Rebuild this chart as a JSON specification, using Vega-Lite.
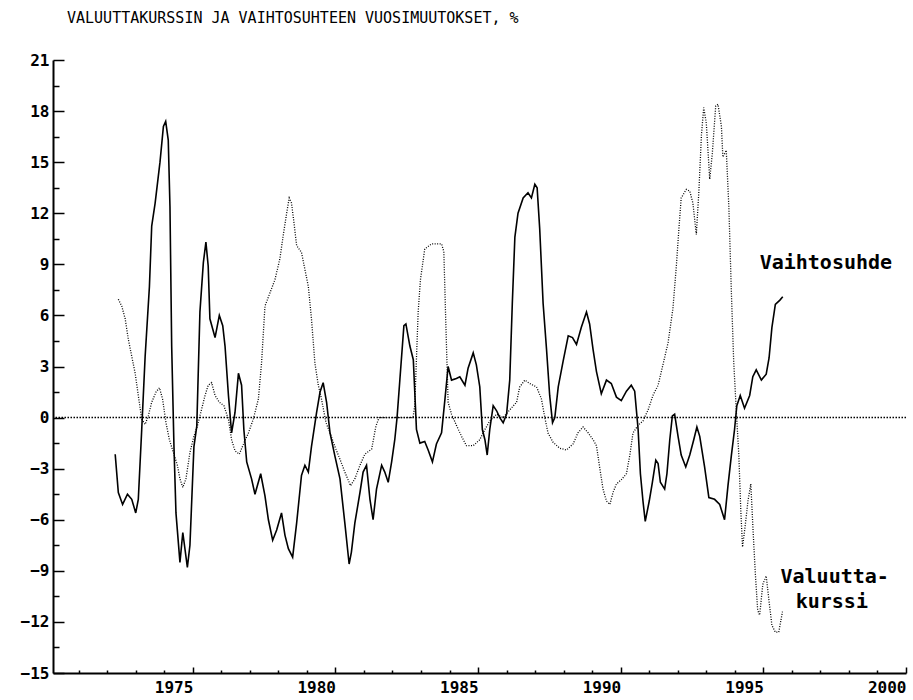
{
  "$schema": "https://vega.github.io/schema/vega-lite/v6.json",
  "width": 853,
  "height": 613,
  "autosize": "none",
  "padding": {"left": 53, "top": 60, "right": 7, "bottom": 27},
  "background": "white",
  "title": {
    "text": "VALUUTTAKURSSIN JA VAIHTOSUHTEEN VUOSIMUUTOKSET, %",
    "anchor": "start",
    "frame": "group",
    "dx": 14,
    "offset": 26,
    "font": "DejaVu Sans Mono",
    "fontSize": 15,
    "fontWeight": "normal",
    "color": "black"
  },
  "config": {
    "view": {"stroke": null},
    "axis": {"grid": false}
  },
  "datasets": {
    "series": [
      {"series": "Vaihtosuhde", "year": 1972.28, "value": -2.15},
      {"series": "Vaihtosuhde", "year": 1972.39, "value": -4.4},
      {"series": "Vaihtosuhde", "year": 1972.54, "value": -5.1},
      {"series": "Vaihtosuhde", "year": 1972.71, "value": -4.5},
      {"series": "Vaihtosuhde", "year": 1972.86, "value": -4.8},
      {"series": "Vaihtosuhde", "year": 1973.0, "value": -5.6},
      {"series": "Vaihtosuhde", "year": 1973.09, "value": -4.8},
      {"series": "Vaihtosuhde", "year": 1973.21, "value": -0.7},
      {"series": "Vaihtosuhde", "year": 1973.33, "value": 3.6},
      {"series": "Vaihtosuhde", "year": 1973.48, "value": 7.7},
      {"series": "Vaihtosuhde", "year": 1973.56, "value": 11.25},
      {"series": "Vaihtosuhde", "year": 1973.68, "value": 12.6},
      {"series": "Vaihtosuhde", "year": 1973.85, "value": 15.0},
      {"series": "Vaihtosuhde", "year": 1973.97, "value": 17.1},
      {"series": "Vaihtosuhde", "year": 1974.05, "value": 17.4},
      {"series": "Vaihtosuhde", "year": 1974.14, "value": 16.3},
      {"series": "Vaihtosuhde", "year": 1974.2, "value": 12.4},
      {"series": "Vaihtosuhde", "year": 1974.26, "value": 4.2},
      {"series": "Vaihtosuhde", "year": 1974.34, "value": -1.7},
      {"series": "Vaihtosuhde", "year": 1974.41, "value": -5.6},
      {"series": "Vaihtosuhde", "year": 1974.55, "value": -8.5},
      {"series": "Vaihtosuhde", "year": 1974.65, "value": -6.75},
      {"series": "Vaihtosuhde", "year": 1974.81, "value": -8.8},
      {"series": "Vaihtosuhde", "year": 1974.9, "value": -7.5},
      {"series": "Vaihtosuhde", "year": 1975.04, "value": -1.7},
      {"series": "Vaihtosuhde", "year": 1975.14, "value": -0.5},
      {"series": "Vaihtosuhde", "year": 1975.25, "value": 6.2},
      {"series": "Vaihtosuhde", "year": 1975.37, "value": 9.1},
      {"series": "Vaihtosuhde", "year": 1975.46, "value": 10.3},
      {"series": "Vaihtosuhde", "year": 1975.54, "value": 8.9},
      {"series": "Vaihtosuhde", "year": 1975.6, "value": 5.8},
      {"series": "Vaihtosuhde", "year": 1975.78, "value": 4.7},
      {"series": "Vaihtosuhde", "year": 1975.93, "value": 6.0},
      {"series": "Vaihtosuhde", "year": 1976.05, "value": 5.4},
      {"series": "Vaihtosuhde", "year": 1976.13, "value": 4.2},
      {"series": "Vaihtosuhde", "year": 1976.25, "value": 1.3},
      {"series": "Vaihtosuhde", "year": 1976.36, "value": -0.9},
      {"series": "Vaihtosuhde", "year": 1976.48, "value": 0.3},
      {"series": "Vaihtosuhde", "year": 1976.6, "value": 2.6},
      {"series": "Vaihtosuhde", "year": 1976.71, "value": 1.9},
      {"series": "Vaihtosuhde", "year": 1976.79, "value": -0.7},
      {"series": "Vaihtosuhde", "year": 1976.89, "value": -2.6},
      {"series": "Vaihtosuhde", "year": 1977.06, "value": -3.6},
      {"series": "Vaihtosuhde", "year": 1977.18, "value": -4.5},
      {"series": "Vaihtosuhde", "year": 1977.38, "value": -3.3},
      {"series": "Vaihtosuhde", "year": 1977.53, "value": -4.6},
      {"series": "Vaihtosuhde", "year": 1977.65, "value": -6.0},
      {"series": "Vaihtosuhde", "year": 1977.8, "value": -7.2},
      {"series": "Vaihtosuhde", "year": 1977.94, "value": -6.6},
      {"series": "Vaihtosuhde", "year": 1978.11, "value": -5.6},
      {"series": "Vaihtosuhde", "year": 1978.23, "value": -6.9},
      {"series": "Vaihtosuhde", "year": 1978.35, "value": -7.7},
      {"series": "Vaihtosuhde", "year": 1978.5, "value": -8.2},
      {"series": "Vaihtosuhde", "year": 1978.64, "value": -6.2},
      {"series": "Vaihtosuhde", "year": 1978.81, "value": -3.4},
      {"series": "Vaihtosuhde", "year": 1978.93, "value": -2.8},
      {"series": "Vaihtosuhde", "year": 1979.05, "value": -3.2},
      {"series": "Vaihtosuhde", "year": 1979.16, "value": -1.7},
      {"series": "Vaihtosuhde", "year": 1979.34, "value": 0.3},
      {"series": "Vaihtosuhde", "year": 1979.46, "value": 1.5},
      {"series": "Vaihtosuhde", "year": 1979.57, "value": 2.05},
      {"series": "Vaihtosuhde", "year": 1979.69, "value": 0.9},
      {"series": "Vaihtosuhde", "year": 1979.81, "value": -0.9},
      {"series": "Vaihtosuhde", "year": 1979.98, "value": -2.25},
      {"series": "Vaihtosuhde", "year": 1980.16, "value": -3.6},
      {"series": "Vaihtosuhde", "year": 1980.33, "value": -6.2},
      {"series": "Vaihtosuhde", "year": 1980.48, "value": -8.6},
      {"series": "Vaihtosuhde", "year": 1980.56, "value": -7.9},
      {"series": "Vaihtosuhde", "year": 1980.68, "value": -6.2},
      {"series": "Vaihtosuhde", "year": 1980.86, "value": -4.4},
      {"series": "Vaihtosuhde", "year": 1980.97, "value": -3.2},
      {"series": "Vaihtosuhde", "year": 1981.09, "value": -2.8},
      {"series": "Vaihtosuhde", "year": 1981.21, "value": -4.8},
      {"series": "Vaihtosuhde", "year": 1981.32, "value": -6.0},
      {"series": "Vaihtosuhde", "year": 1981.44, "value": -4.2},
      {"series": "Vaihtosuhde", "year": 1981.62, "value": -2.8},
      {"series": "Vaihtosuhde", "year": 1981.73, "value": -3.2},
      {"series": "Vaihtosuhde", "year": 1981.85, "value": -3.8},
      {"series": "Vaihtosuhde", "year": 1981.97, "value": -2.6},
      {"series": "Vaihtosuhde", "year": 1982.08, "value": -1.3},
      {"series": "Vaihtosuhde", "year": 1982.16, "value": 0},
      {"series": "Vaihtosuhde", "year": 1982.26, "value": 2.25},
      {"series": "Vaihtosuhde", "year": 1982.4, "value": 5.4},
      {"series": "Vaihtosuhde", "year": 1982.47, "value": 5.5},
      {"series": "Vaihtosuhde", "year": 1982.61, "value": 4.2},
      {"series": "Vaihtosuhde", "year": 1982.73, "value": 3.4},
      {"series": "Vaihtosuhde", "year": 1982.84, "value": -0.7},
      {"series": "Vaihtosuhde", "year": 1982.96, "value": -1.5},
      {"series": "Vaihtosuhde", "year": 1983.13, "value": -1.4},
      {"series": "Vaihtosuhde", "year": 1983.25, "value": -1.9},
      {"series": "Vaihtosuhde", "year": 1983.4, "value": -2.6},
      {"series": "Vaihtosuhde", "year": 1983.54, "value": -1.55},
      {"series": "Vaihtosuhde", "year": 1983.72, "value": -0.9},
      {"series": "Vaihtosuhde", "year": 1983.84, "value": 1.1},
      {"series": "Vaihtosuhde", "year": 1983.95, "value": 3.0},
      {"series": "Vaihtosuhde", "year": 1984.07, "value": 2.2},
      {"series": "Vaihtosuhde", "year": 1984.24, "value": 2.3},
      {"series": "Vaihtosuhde", "year": 1984.36, "value": 2.4},
      {"series": "Vaihtosuhde", "year": 1984.54, "value": 1.9},
      {"series": "Vaihtosuhde", "year": 1984.65, "value": 2.9},
      {"series": "Vaihtosuhde", "year": 1984.83, "value": 3.8},
      {"series": "Vaihtosuhde", "year": 1984.94, "value": 3.1},
      {"series": "Vaihtosuhde", "year": 1985.06, "value": 1.8},
      {"series": "Vaihtosuhde", "year": 1985.15, "value": -0.7},
      {"series": "Vaihtosuhde", "year": 1985.24, "value": -1.3},
      {"series": "Vaihtosuhde", "year": 1985.32, "value": -2.2},
      {"series": "Vaihtosuhde", "year": 1985.41, "value": -0.7},
      {"series": "Vaihtosuhde", "year": 1985.53, "value": 0.7},
      {"series": "Vaihtosuhde", "year": 1985.65, "value": 0.4},
      {"series": "Vaihtosuhde", "year": 1985.76, "value": 0},
      {"series": "Vaihtosuhde", "year": 1985.88, "value": -0.3},
      {"series": "Vaihtosuhde", "year": 1986.0, "value": 0.2},
      {"series": "Vaihtosuhde", "year": 1986.11, "value": 2.2},
      {"series": "Vaihtosuhde", "year": 1986.2, "value": 6.7},
      {"series": "Vaihtosuhde", "year": 1986.29, "value": 10.6},
      {"series": "Vaihtosuhde", "year": 1986.4, "value": 12.0},
      {"series": "Vaihtosuhde", "year": 1986.58, "value": 12.9},
      {"series": "Vaihtosuhde", "year": 1986.75, "value": 13.2},
      {"series": "Vaihtosuhde", "year": 1986.87, "value": 12.9},
      {"series": "Vaihtosuhde", "year": 1986.99, "value": 13.7},
      {"series": "Vaihtosuhde", "year": 1987.07, "value": 13.5},
      {"series": "Vaihtosuhde", "year": 1987.16, "value": 11.1},
      {"series": "Vaihtosuhde", "year": 1987.28, "value": 6.7},
      {"series": "Vaihtosuhde", "year": 1987.4, "value": 4.0},
      {"series": "Vaihtosuhde", "year": 1987.51, "value": 1.3},
      {"series": "Vaihtosuhde", "year": 1987.61, "value": -0.3},
      {"series": "Vaihtosuhde", "year": 1987.69, "value": 0},
      {"series": "Vaihtosuhde", "year": 1987.81, "value": 1.8},
      {"series": "Vaihtosuhde", "year": 1987.98, "value": 3.3},
      {"series": "Vaihtosuhde", "year": 1988.16, "value": 4.8},
      {"series": "Vaihtosuhde", "year": 1988.31, "value": 4.7},
      {"series": "Vaihtosuhde", "year": 1988.45, "value": 4.3},
      {"series": "Vaihtosuhde", "year": 1988.62, "value": 5.3},
      {"series": "Vaihtosuhde", "year": 1988.8, "value": 6.2},
      {"series": "Vaihtosuhde", "year": 1988.91, "value": 5.5},
      {"series": "Vaihtosuhde", "year": 1989.03, "value": 4.0},
      {"series": "Vaihtosuhde", "year": 1989.15, "value": 2.7},
      {"series": "Vaihtosuhde", "year": 1989.32, "value": 1.4},
      {"series": "Vaihtosuhde", "year": 1989.5, "value": 2.2},
      {"series": "Vaihtosuhde", "year": 1989.67, "value": 2.0},
      {"series": "Vaihtosuhde", "year": 1989.85, "value": 1.2},
      {"series": "Vaihtosuhde", "year": 1990.02, "value": 1.0},
      {"series": "Vaihtosuhde", "year": 1990.2, "value": 1.55},
      {"series": "Vaihtosuhde", "year": 1990.37, "value": 1.9},
      {"series": "Vaihtosuhde", "year": 1990.49, "value": 1.55},
      {"series": "Vaihtosuhde", "year": 1990.61, "value": -0.7},
      {"series": "Vaihtosuhde", "year": 1990.69, "value": -3.3},
      {"series": "Vaihtosuhde", "year": 1990.78, "value": -4.9},
      {"series": "Vaihtosuhde", "year": 1990.86, "value": -6.1},
      {"series": "Vaihtosuhde", "year": 1991.0, "value": -4.9},
      {"series": "Vaihtosuhde", "year": 1991.11, "value": -3.8},
      {"series": "Vaihtosuhde", "year": 1991.23, "value": -2.5},
      {"series": "Vaihtosuhde", "year": 1991.31, "value": -2.7},
      {"series": "Vaihtosuhde", "year": 1991.39, "value": -3.8},
      {"series": "Vaihtosuhde", "year": 1991.54, "value": -4.2},
      {"series": "Vaihtosuhde", "year": 1991.62, "value": -3.3},
      {"series": "Vaihtosuhde", "year": 1991.72, "value": -1.3},
      {"series": "Vaihtosuhde", "year": 1991.81, "value": 0.1},
      {"series": "Vaihtosuhde", "year": 1991.89, "value": 0.2},
      {"series": "Vaihtosuhde", "year": 1992.01, "value": -1.1},
      {"series": "Vaihtosuhde", "year": 1992.12, "value": -2.2},
      {"series": "Vaihtosuhde", "year": 1992.28, "value": -2.9},
      {"series": "Vaihtosuhde", "year": 1992.42, "value": -2.2},
      {"series": "Vaihtosuhde", "year": 1992.56, "value": -1.3},
      {"series": "Vaihtosuhde", "year": 1992.67, "value": -0.55},
      {"series": "Vaihtosuhde", "year": 1992.77, "value": -1.1},
      {"series": "Vaihtosuhde", "year": 1992.94, "value": -2.9},
      {"series": "Vaihtosuhde", "year": 1993.09, "value": -4.7},
      {"series": "Vaihtosuhde", "year": 1993.29, "value": -4.8},
      {"series": "Vaihtosuhde", "year": 1993.47, "value": -5.1},
      {"series": "Vaihtosuhde", "year": 1993.64, "value": -6.0},
      {"series": "Vaihtosuhde", "year": 1993.76, "value": -4.0},
      {"series": "Vaihtosuhde", "year": 1993.88, "value": -2.2},
      {"series": "Vaihtosuhde", "year": 1993.99, "value": -0.7},
      {"series": "Vaihtosuhde", "year": 1994.07, "value": 0.7},
      {"series": "Vaihtosuhde", "year": 1994.19, "value": 1.3},
      {"series": "Vaihtosuhde", "year": 1994.34, "value": 0.55},
      {"series": "Vaihtosuhde", "year": 1994.52, "value": 1.3},
      {"series": "Vaihtosuhde", "year": 1994.63, "value": 2.4},
      {"series": "Vaihtosuhde", "year": 1994.75, "value": 2.8},
      {"series": "Vaihtosuhde", "year": 1994.93, "value": 2.2},
      {"series": "Vaihtosuhde", "year": 1995.1, "value": 2.55},
      {"series": "Vaihtosuhde", "year": 1995.2, "value": 3.5},
      {"series": "Vaihtosuhde", "year": 1995.3, "value": 5.3},
      {"series": "Vaihtosuhde", "year": 1995.42, "value": 6.65},
      {"series": "Vaihtosuhde", "year": 1995.58, "value": 6.9},
      {"series": "Vaihtosuhde", "year": 1995.68, "value": 7.1},

      {"series": "Valuuttakurssi", "year": 1972.39, "value": 6.95},
      {"series": "Valuuttakurssi", "year": 1972.51, "value": 6.55},
      {"series": "Valuuttakurssi", "year": 1972.63, "value": 5.8},
      {"series": "Valuuttakurssi", "year": 1972.74, "value": 4.6},
      {"series": "Valuuttakurssi", "year": 1972.86, "value": 3.6},
      {"series": "Valuuttakurssi", "year": 1972.98, "value": 2.6},
      {"series": "Valuuttakurssi", "year": 1973.09, "value": 1.3},
      {"series": "Valuuttakurssi", "year": 1973.21, "value": -0.1},
      {"series": "Valuuttakurssi", "year": 1973.33, "value": -0.4},
      {"series": "Valuuttakurssi", "year": 1973.44, "value": 0.1},
      {"series": "Valuuttakurssi", "year": 1973.56, "value": 0.9},
      {"series": "Valuuttakurssi", "year": 1973.71, "value": 1.5},
      {"series": "Valuuttakurssi", "year": 1973.83, "value": 1.75},
      {"series": "Valuuttakurssi", "year": 1973.94, "value": 1.1},
      {"series": "Valuuttakurssi", "year": 1974.06, "value": -0.3},
      {"series": "Valuuttakurssi", "year": 1974.18, "value": -1.3},
      {"series": "Valuuttakurssi", "year": 1974.32, "value": -2.05},
      {"series": "Valuuttakurssi", "year": 1974.46, "value": -2.8},
      {"series": "Valuuttakurssi", "year": 1974.55, "value": -3.6},
      {"series": "Valuuttakurssi", "year": 1974.65, "value": -4.1},
      {"series": "Valuuttakurssi", "year": 1974.76, "value": -3.6},
      {"series": "Valuuttakurssi", "year": 1974.9, "value": -2.05},
      {"series": "Valuuttakurssi", "year": 1975.04, "value": -1.1},
      {"series": "Valuuttakurssi", "year": 1975.16, "value": -0.5},
      {"series": "Valuuttakurssi", "year": 1975.28, "value": 0.3},
      {"series": "Valuuttakurssi", "year": 1975.43, "value": 1.3},
      {"series": "Valuuttakurssi", "year": 1975.54, "value": 1.9},
      {"series": "Valuuttakurssi", "year": 1975.66, "value": 2.05},
      {"series": "Valuuttakurssi", "year": 1975.78, "value": 1.3},
      {"series": "Valuuttakurssi", "year": 1975.93, "value": 0.9},
      {"series": "Valuuttakurssi", "year": 1976.09, "value": 0.7},
      {"series": "Valuuttakurssi", "year": 1976.25, "value": -0.1},
      {"series": "Valuuttakurssi", "year": 1976.36, "value": -1.3},
      {"series": "Valuuttakurssi", "year": 1976.48, "value": -1.95},
      {"series": "Valuuttakurssi", "year": 1976.63, "value": -2.15},
      {"series": "Valuuttakurssi", "year": 1976.79, "value": -1.5},
      {"series": "Valuuttakurssi", "year": 1976.95, "value": -0.9},
      {"series": "Valuuttakurssi", "year": 1977.12, "value": -0.1},
      {"series": "Valuuttakurssi", "year": 1977.3, "value": 1.1},
      {"series": "Valuuttakurssi", "year": 1977.41, "value": 3.2},
      {"series": "Valuuttakurssi", "year": 1977.53, "value": 6.55},
      {"series": "Valuuttakurssi", "year": 1977.7, "value": 7.3},
      {"series": "Valuuttakurssi", "year": 1977.88, "value": 8.1},
      {"series": "Valuuttakurssi", "year": 1978.05, "value": 9.3},
      {"series": "Valuuttakurssi", "year": 1978.17, "value": 10.7},
      {"series": "Valuuttakurssi", "year": 1978.29, "value": 12.0},
      {"series": "Valuuttakurssi", "year": 1978.38, "value": 12.9},
      {"series": "Valuuttakurssi", "year": 1978.46, "value": 12.6},
      {"series": "Valuuttakurssi", "year": 1978.55, "value": 11.4},
      {"series": "Valuuttakurssi", "year": 1978.64, "value": 10.1},
      {"series": "Valuuttakurssi", "year": 1978.81, "value": 9.7},
      {"series": "Valuuttakurssi", "year": 1978.93, "value": 8.7},
      {"series": "Valuuttakurssi", "year": 1979.05, "value": 7.7},
      {"series": "Valuuttakurssi", "year": 1979.16, "value": 5.8},
      {"series": "Valuuttakurssi", "year": 1979.28, "value": 3.2},
      {"series": "Valuuttakurssi", "year": 1979.4, "value": 1.9},
      {"series": "Valuuttakurssi", "year": 1979.51, "value": 1.1},
      {"series": "Valuuttakurssi", "year": 1979.67, "value": -0.3},
      {"series": "Valuuttakurssi", "year": 1979.81, "value": -0.9},
      {"series": "Valuuttakurssi", "year": 1979.98, "value": -1.7},
      {"series": "Valuuttakurssi", "year": 1980.16, "value": -2.45},
      {"series": "Valuuttakurssi", "year": 1980.33, "value": -3.2},
      {"series": "Valuuttakurssi", "year": 1980.53, "value": -4.0},
      {"series": "Valuuttakurssi", "year": 1980.68, "value": -3.6},
      {"series": "Valuuttakurssi", "year": 1980.86, "value": -2.8},
      {"series": "Valuuttakurssi", "year": 1981.03, "value": -2.15},
      {"series": "Valuuttakurssi", "year": 1981.27, "value": -1.85},
      {"series": "Valuuttakurssi", "year": 1981.42, "value": -0.5},
      {"series": "Valuuttakurssi", "year": 1981.53, "value": 0},
      {"series": "Valuuttakurssi", "year": 1982.72, "value": 0},
      {"series": "Valuuttakurssi", "year": 1982.78, "value": 0.7},
      {"series": "Valuuttakurssi", "year": 1982.9, "value": 6.2},
      {"series": "Valuuttakurssi", "year": 1982.98, "value": 8.1},
      {"series": "Valuuttakurssi", "year": 1983.13, "value": 9.9},
      {"series": "Valuuttakurssi", "year": 1983.37, "value": 10.2},
      {"series": "Valuuttakurssi", "year": 1983.72, "value": 10.2},
      {"series": "Valuuttakurssi", "year": 1983.8, "value": 9.75},
      {"series": "Valuuttakurssi", "year": 1983.87, "value": 5.5},
      {"series": "Valuuttakurssi", "year": 1983.95, "value": 0.9},
      {"series": "Valuuttakurssi", "year": 1984.07, "value": 0.2},
      {"series": "Valuuttakurssi", "year": 1984.24, "value": -0.45},
      {"series": "Valuuttakurssi", "year": 1984.42, "value": -1.1},
      {"series": "Valuuttakurssi", "year": 1984.59, "value": -1.65},
      {"series": "Valuuttakurssi", "year": 1984.83, "value": -1.65},
      {"series": "Valuuttakurssi", "year": 1985.06, "value": -1.3},
      {"series": "Valuuttakurssi", "year": 1985.24, "value": -0.7},
      {"series": "Valuuttakurssi", "year": 1985.41, "value": -0.2},
      {"series": "Valuuttakurssi", "year": 1985.65, "value": 0.2},
      {"series": "Valuuttakurssi", "year": 1985.88, "value": 0},
      {"series": "Valuuttakurssi", "year": 1986.11, "value": 0.45},
      {"series": "Valuuttakurssi", "year": 1986.35, "value": 0.9},
      {"series": "Valuuttakurssi", "year": 1986.46, "value": 1.8},
      {"series": "Valuuttakurssi", "year": 1986.64, "value": 2.2},
      {"series": "Valuuttakurssi", "year": 1986.81, "value": 2.0},
      {"series": "Valuuttakurssi", "year": 1987.05, "value": 1.8},
      {"series": "Valuuttakurssi", "year": 1987.22, "value": 1.1},
      {"series": "Valuuttakurssi", "year": 1987.34, "value": 0},
      {"series": "Valuuttakurssi", "year": 1987.45, "value": -0.9},
      {"series": "Valuuttakurssi", "year": 1987.63, "value": -1.45},
      {"series": "Valuuttakurssi", "year": 1987.86, "value": -1.8},
      {"series": "Valuuttakurssi", "year": 1988.1, "value": -1.9},
      {"series": "Valuuttakurssi", "year": 1988.33, "value": -1.55},
      {"series": "Valuuttakurssi", "year": 1988.5, "value": -0.9},
      {"series": "Valuuttakurssi", "year": 1988.68, "value": -0.55},
      {"series": "Valuuttakurssi", "year": 1988.86, "value": -0.9},
      {"series": "Valuuttakurssi", "year": 1989.03, "value": -1.3},
      {"series": "Valuuttakurssi", "year": 1989.15, "value": -1.65},
      {"series": "Valuuttakurssi", "year": 1989.26, "value": -2.9},
      {"series": "Valuuttakurssi", "year": 1989.38, "value": -4.2},
      {"series": "Valuuttakurssi", "year": 1989.5, "value": -4.9},
      {"series": "Valuuttakurssi", "year": 1989.62, "value": -5.1},
      {"series": "Valuuttakurssi", "year": 1989.73, "value": -4.4},
      {"series": "Valuuttakurssi", "year": 1989.85, "value": -3.9},
      {"series": "Valuuttakurssi", "year": 1990.02, "value": -3.65},
      {"series": "Valuuttakurssi", "year": 1990.2, "value": -3.3},
      {"series": "Valuuttakurssi", "year": 1990.32, "value": -2.2},
      {"series": "Valuuttakurssi", "year": 1990.43, "value": -0.9},
      {"series": "Valuuttakurssi", "year": 1990.61, "value": -0.45},
      {"series": "Valuuttakurssi", "year": 1990.78, "value": -0.2},
      {"series": "Valuuttakurssi", "year": 1990.96, "value": 0.45},
      {"series": "Valuuttakurssi", "year": 1991.13, "value": 1.3},
      {"series": "Valuuttakurssi", "year": 1991.31, "value": 1.9},
      {"series": "Valuuttakurssi", "year": 1991.48, "value": 3.1},
      {"series": "Valuuttakurssi", "year": 1991.66, "value": 4.4},
      {"series": "Valuuttakurssi", "year": 1991.83, "value": 6.4},
      {"series": "Valuuttakurssi", "year": 1991.95, "value": 8.9},
      {"series": "Valuuttakurssi", "year": 1992.04, "value": 11.1},
      {"series": "Valuuttakurssi", "year": 1992.12, "value": 12.9},
      {"series": "Valuuttakurssi", "year": 1992.3, "value": 13.4},
      {"series": "Valuuttakurssi", "year": 1992.42, "value": 13.3},
      {"series": "Valuuttakurssi", "year": 1992.53, "value": 12.6},
      {"series": "Valuuttakurssi", "year": 1992.65, "value": 10.75},
      {"series": "Valuuttakurssi", "year": 1992.74, "value": 13.3},
      {"series": "Valuuttakurssi", "year": 1992.83, "value": 16.6},
      {"series": "Valuuttakurssi", "year": 1992.91, "value": 18.2},
      {"series": "Valuuttakurssi", "year": 1993.0, "value": 17.3},
      {"series": "Valuuttakurssi", "year": 1993.12, "value": 14.0},
      {"series": "Valuuttakurssi", "year": 1993.21, "value": 15.5},
      {"series": "Valuuttakurssi", "year": 1993.33, "value": 18.3},
      {"series": "Valuuttakurssi", "year": 1993.41, "value": 18.4},
      {"series": "Valuuttakurssi", "year": 1993.53, "value": 17.1},
      {"series": "Valuuttakurssi", "year": 1993.58, "value": 15.3},
      {"series": "Valuuttakurssi", "year": 1993.7, "value": 15.7},
      {"series": "Valuuttakurssi", "year": 1993.79, "value": 12.4},
      {"series": "Valuuttakurssi", "year": 1993.88, "value": 7.3},
      {"series": "Valuuttakurssi", "year": 1993.96, "value": 3.3},
      {"series": "Valuuttakurssi", "year": 1994.05, "value": 0.45},
      {"series": "Valuuttakurssi", "year": 1994.14, "value": -2.2},
      {"series": "Valuuttakurssi", "year": 1994.21, "value": -5.5},
      {"series": "Valuuttakurssi", "year": 1994.27, "value": -7.6},
      {"series": "Valuuttakurssi", "year": 1994.36, "value": -6.4},
      {"series": "Valuuttakurssi", "year": 1994.46, "value": -4.9},
      {"series": "Valuuttakurssi", "year": 1994.56, "value": -3.9},
      {"series": "Valuuttakurssi", "year": 1994.64, "value": -6.65},
      {"series": "Valuuttakurssi", "year": 1994.72, "value": -9.2},
      {"series": "Valuuttakurssi", "year": 1994.8, "value": -11.3},
      {"series": "Valuuttakurssi", "year": 1994.87, "value": -11.6},
      {"series": "Valuuttakurssi", "year": 1994.98, "value": -9.8},
      {"series": "Valuuttakurssi", "year": 1995.1, "value": -9.3},
      {"series": "Valuuttakurssi", "year": 1995.2, "value": -10.8},
      {"series": "Valuuttakurssi", "year": 1995.3, "value": -12.2},
      {"series": "Valuuttakurssi", "year": 1995.42, "value": -12.6},
      {"series": "Valuuttakurssi", "year": 1995.54, "value": -12.6},
      {"series": "Valuuttakurssi", "year": 1995.67, "value": -11.4}
    ],
    "labels": [
      {"label": "Vaihtosuhde", "year": 1994.87, "value": 9.1},
      {"label": "Valuutta-", "year": 1997.5, "value": -9.35},
      {"label": "kurssi", "year": 1997.4, "value": -10.85}
    ],
    "zero": [
      {"value": 0}
    ]
  },
  "encoding": {
    "x": {
      "field": "year",
      "type": "quantitative",
      "scale": {"domain": [1970.1, 2000], "nice": false, "zero": false},
      "axis": {
        "title": null,
        "values": [1971,1972,1973,1974,1975,1976,1977,1978,1979,1980,1981,1982,1983,1984,1985,1986,1987,1988,1989,1990,1991,1992,1993,1994,1995,1996,1997,1998,1999,2000],
        "format": "d",
        "labelExpr": "datum.value % 5 === 0 ? datum.label : ''",
        "labelOverlap": false,
        "labelFlush": false,
        "labelAlign": "right",
        "labelDx": 5,
        "labelPadding": 12,
        "labelFont": "DejaVu Sans Mono",
        "labelFontSize": 16,
        "labelFontWeight": "bold",
        "labelColor": "black",
        "tickColor": "black",
        "tickWidth": 1.5,
        "tickSize": {"condition": {"test": "datum.value % 5 === 0", "value": -6}, "value": -3},
        "domainColor": "black",
        "domainWidth": 2
      }
    },
    "y": {
      "field": "value",
      "type": "quantitative",
      "scale": {"domain": [-15, 21], "nice": false, "zero": false},
      "axis": {
        "title": null,
        "values": [-15,-13.5,-12,-10.5,-9,-7.5,-6,-4.5,-3,-1.5,0,1.5,3,4.5,6,7.5,9,10.5,12,13.5,15,16.5,18,19.5,21],
        "labelExpr": "datum.value % 3 === 0 ? datum.label : ''",
        "labelOverlap": false,
        "labelFlush": false,
        "labelPadding": 15,
        "labelFont": "DejaVu Sans Mono",
        "labelFontSize": 16,
        "labelFontWeight": "bold",
        "labelColor": "black",
        "tickColor": "black",
        "tickWidth": 1.5,
        "tickSize": {"condition": {"test": "datum.value % 3 === 0", "value": -11}, "value": -6},
        "domainColor": "black",
        "domainWidth": 2
      }
    }
  },
  "layer": [
    {
      "data": {"name": "zero"},
      "mark": {"type": "rule", "color": "black", "strokeWidth": 1.5, "strokeDash": [1.5, 1.5]},
      "encoding": {"x": null}
    },
    {
      "data": {"name": "series"},
      "transform": [{"filter": "datum.series === 'Valuuttakurssi'"}],
      "mark": {"type": "line", "color": "black", "strokeWidth": 1.3, "strokeDash": [1, 1.5]}
    },
    {
      "data": {"name": "series"},
      "transform": [{"filter": "datum.series === 'Vaihtosuhde'"}],
      "mark": {"type": "line", "color": "black", "strokeWidth": 1.6}
    },
    {
      "data": {"name": "labels"},
      "transform": [{"filter": "datum.label === 'Vaihtosuhde'"}],
      "mark": {"type": "text", "align": "left", "baseline": "middle", "font": "DejaVu Sans Mono", "fontSize": 20, "fontWeight": "bold", "color": "black"},
      "encoding": {"text": {"field": "label"}}
    },
    {
      "data": {"name": "labels"},
      "transform": [{"filter": "datum.label !== 'Vaihtosuhde'"}],
      "mark": {"type": "text", "align": "center", "baseline": "middle", "font": "DejaVu Sans Mono", "fontSize": 20, "fontWeight": "bold", "color": "black"},
      "encoding": {"text": {"field": "label"}}
    }
  ]
}
